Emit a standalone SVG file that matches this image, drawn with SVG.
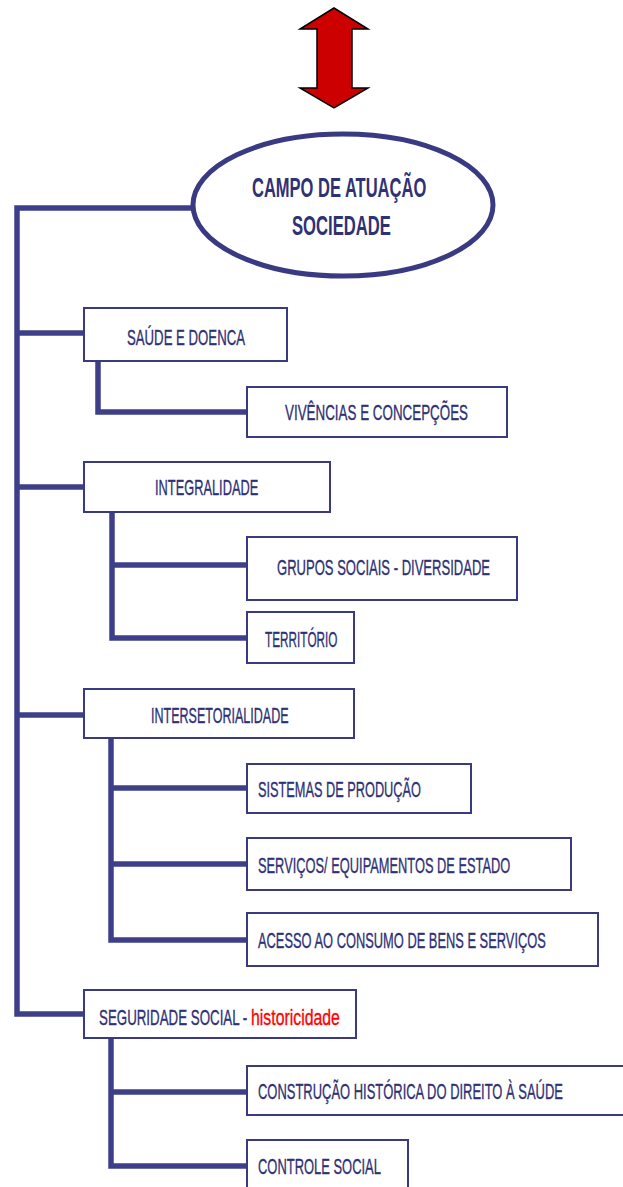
<svg xmlns="http://www.w3.org/2000/svg" width="623" height="1187" viewBox="0 0 623 1187">
<style>
.box{fill:#ffffff;stroke:#3a3a82;stroke-width:2}
.t{font-family:"Liberation Sans",Arial,sans-serif;font-size:22px;fill:#2f3175;stroke:#2f3175;stroke-width:0.35}
.tt{font-family:"Liberation Sans",Arial,sans-serif;font-size:28px;font-weight:bold;fill:#2f3175}
.red{fill:#ff0000;stroke:#ff0000}
.c{fill:none;stroke:#3d3f88;stroke-width:5.5;stroke-linejoin:miter}
</style>
<g id="arrow">
<path d="M334,8 L368,29 L352,29 L352,88 L368,88 L334,108 L300,88 L317,88 L317,29 L300,29 Z" fill="#cc0000" stroke="#000" stroke-width="1.5"/>
</g>
<g id="connectors">
<path class="c" d="M193,208 H17 V1014 H84"/>
<path class="c" d="M17,333 H84"/>
<path class="c" d="M17,487 H84"/>
<path class="c" d="M17,715 H84"/>
<path class="c" d="M98,362 V412 H247"/>
<path class="c" d="M112,512 V638 H247"/>
<path class="c" d="M112,565 H247"/>
<path class="c" d="M111,738 V940 H247"/>
<path class="c" d="M111,788 H247"/>
<path class="c" d="M111,864 H247"/>
<path class="c" d="M111,1038 V1166 H247"/>
<path class="c" d="M111,1092 H247"/>
</g>
<g id="root">
<ellipse cx="343" cy="205" rx="150" ry="71" fill="#fff" stroke="#3a3a82" stroke-width="5"/>
<text class="tt" transform="translate(252,197) scale(0.59,1)">CAMPO DE ATUAÇÃO</text>
<text class="tt" transform="translate(292,235) scale(0.595,1)">SOCIEDADE</text>
</g>
<g id="saude">
<rect class="box" x="84" y="308" width="203" height="53"/>
<text class="t" transform="translate(127,345) scale(0.60,1)">SAÚDE E DOENCA</text>
</g>
<g id="vivencias">
<rect class="box" x="247" y="387" width="260" height="50"/>
<text class="t" transform="translate(285,420) scale(0.609,1)">VIVÊNCIAS E CONCEPÇÕES</text>
</g>
<g id="integralidade">
<rect class="box" x="84" y="462" width="246" height="50"/>
<text class="t" transform="translate(155,495) scale(0.583,1)">INTEGRALIDADE</text>
</g>
<g id="grupos">
<rect class="box" x="247" y="537" width="270" height="63"/>
<text class="t" transform="translate(277,575) scale(0.593,1)">GRUPOS SOCIAIS - DIVERSIDADE</text>
</g>
<g id="territorio">
<rect class="box" x="247" y="612" width="107" height="51"/>
<text class="t" transform="translate(265,647) scale(0.535,1)">TERRITÓRIO</text>
</g>
<g id="intersetorialidade">
<rect class="box" x="84" y="689" width="270" height="49"/>
<text class="t" transform="translate(151,723) scale(0.57,1)">INTERSETORIALIDADE</text>
</g>
<g id="sistemas">
<rect class="box" x="247" y="764" width="224" height="49"/>
<text class="t" transform="translate(258,797) scale(0.58,1)">SISTEMAS DE PRODUÇÃO</text>
</g>
<g id="servicos">
<rect class="box" x="247" y="838" width="324" height="52"/>
<text class="t" transform="translate(258,873) scale(0.584,1)">SERVIÇOS/ EQUIPAMENTOS DE ESTADO</text>
</g>
<g id="acesso">
<rect class="box" x="247" y="913" width="351" height="53"/>
<text class="t" transform="translate(258,948) scale(0.585,1)">ACESSO AO CONSUMO DE BENS E SERVIÇOS</text>
</g>
<g id="seguridade">
<rect class="box" x="84" y="990" width="272" height="48"/>
<text class="t" transform="translate(99,1025) scale(0.606,1)">SEGURIDADE SOCIAL -</text>
<text class="t red" transform="translate(251,1025) scale(0.72,1)">historicidade</text>
</g>
<g id="construcao">
<rect class="box" x="247" y="1066" width="390" height="49"/>
<text class="t" transform="translate(258,1099) scale(0.589,1)">CONSTRUÇÃO HISTÓRICA DO DIREITO À SAÚDE</text>
</g>
<g id="controle">
<rect class="box" x="247" y="1140" width="161" height="60"/>
<text class="t" transform="translate(258,1174) scale(0.588,1)">CONTROLE SOCIAL</text>
</g>
</svg>
